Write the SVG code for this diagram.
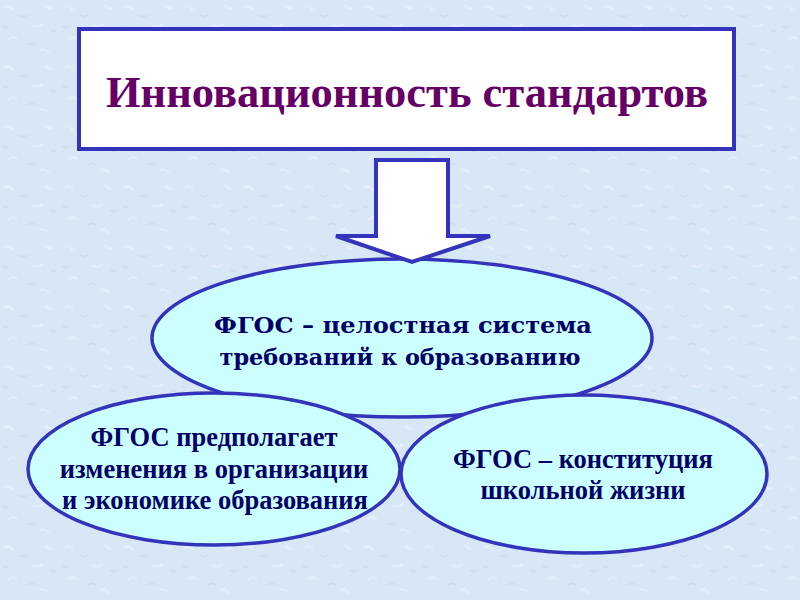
<svg xmlns="http://www.w3.org/2000/svg" width="800" height="600" viewBox="0 0 800 600">
  <defs>
    <pattern id="bg" width="60" height="60" patternUnits="userSpaceOnUse">
      <rect width="60" height="60" fill="#D8E7F5"/>
      <path d="M3 8 q6 -4 10 2 M32 25 q5 4 11 -1 M45 5 q3 5 8 3 M8 40 q4 -5 9 -1 M40 50 q5 -2 9 3" stroke="#E2EDF8" stroke-width="2.5" fill="none"/>
      <path d="M20 15 q4 3 8 0 M2 26 q3 3 6 0 M28 45 q4 -3 8 0 M50 30 q3 3 6 0" stroke="#CCDFF1" stroke-width="1.5" fill="none"/>
    </pattern>
    <style>
      .node { fill: #CCFFFF; stroke: #3333BB; stroke-width: 3.5; }
      .t { font-family: "Liberation Serif", "DejaVu Serif", serif; font-weight: bold; fill: #000066; text-anchor: middle; }
      .tw { font-family: "DejaVu Serif", "Liberation Serif", serif; font-weight: bold; fill: #000066; text-anchor: middle; }
    </style>
  </defs>
  <rect width="800" height="600" fill="url(#bg)"/>

  <g id="title">
    <rect x="79" y="29" width="655" height="120" fill="#FFFFFF" stroke="#3333BB" stroke-width="4"/>
    <text x="407" y="107" font-family="Liberation Serif, serif" font-weight="bold" font-size="44.5" fill="#660066" text-anchor="middle">Инновационность стандартов</text>
  </g>

  <g id="node-top">
    <ellipse class="node" cx="402" cy="338" rx="250" ry="79"/>
    <text class="tw" font-size="23" x="403" y="333" textLength="378" lengthAdjust="spacingAndGlyphs">ФГОС – целостная система</text>
    <text class="tw" font-size="23" x="400" y="365" textLength="361" lengthAdjust="spacingAndGlyphs">требований к образованию</text>
  </g>

  <g id="node-left">
    <ellipse class="node" cx="214" cy="469" rx="186" ry="76"/>
    <text class="t" font-size="26.5" x="214" y="446">ФГОС предполагает</text>
    <text class="t" font-size="26.5" x="214" y="478">изменения в организации</text>
    <text class="t" font-size="26.5" x="215" y="509">и экономике образования</text>
  </g>

  <g id="node-right">
    <ellipse class="node" cx="584" cy="474" rx="183" ry="79"/>
    <text class="t" font-size="26.5" x="583" y="468">ФГОС – конституция</text>
    <text class="t" font-size="26.5" x="583" y="499">школьной жизни</text>
  </g>

  <g id="connectors">
    <polygon points="376,160 448,160 448,236 490,236 412,262 336,236 376,236" fill="#FFFFFF" stroke="#3333BB" stroke-width="4" stroke-linejoin="miter"/>
  </g>
</svg>
